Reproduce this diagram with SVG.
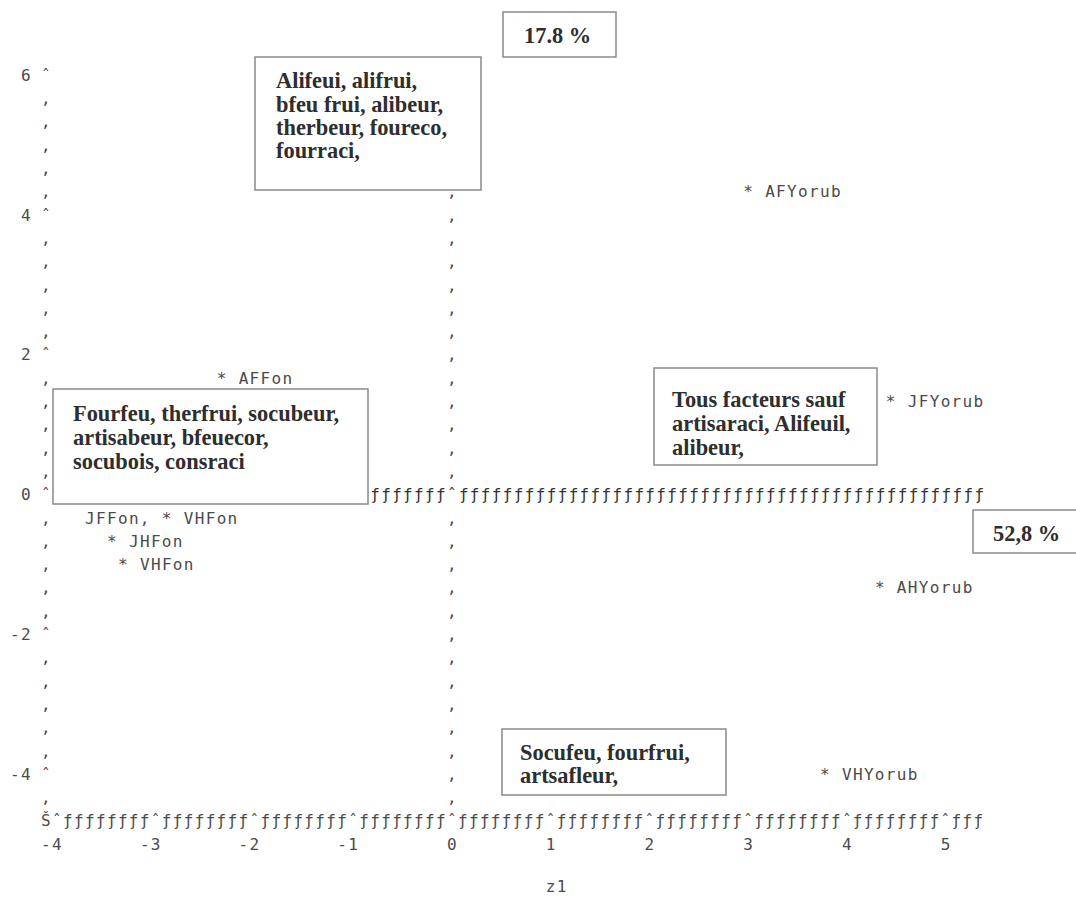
<svg xmlns="http://www.w3.org/2000/svg" width="1076" height="899" viewBox="0 0 1076 899">
<style>
.m { font-family: "DejaVu Sans Mono", "Liberation Mono", monospace; font-size: 16px; letter-spacing: 1.337px; fill: #4a4a4a; }
.z { fill: #333333; }
.b { font-family: "Liberation Serif", "Times New Roman", serif; font-weight: bold; font-size: 22.4px; fill: #2e2e2e; }
.box { fill: #ffffff; stroke: #8a8a8a; stroke-width: 1.5; }
</style>
<rect width="1076" height="899" fill="#ffffff"/>
<g id="axes">
  <text class="m" x="41.1 41.1 41.1 41.1 41.1 41.1 41.1 41.1 41.1 41.1 41.1 41.1 41.1 41.1 41.1 41.1 41.1 41.1 41.1 41.1 41.1 41.1 41.1 41.1 41.1 41.1 41.1 41.1 41.1 41.1 41.1 41.1" y="80.8 104.1 127.4 150.7 174 197.3 220.6 243.9 267.2 290.5 313.8 337.1 360.4 383.7 407 430.3 453.6 476.9 500.2 523.5 546.8 570.1 593.4 616.7 640 663.3 686.6 709.9 733.2 756.5 779.8 803.1">ˆ‚‚‚‚‚ˆ‚‚‚‚‚ˆ‚‚‚‚‚ˆ‚‚‚‚‚ˆ‚‚‚‚‚ˆ‚</text>
  <text class="m" x="21" y="80.8">6</text>
  <text class="m" x="21" y="220.6">4</text>
  <text class="m" x="21" y="360.4">2</text>
  <text class="m" x="21" y="500.2">0</text>
  <text class="m" x="10" y="640">-2</text>
  <text class="m" x="10" y="779.8">-4</text>
  <text class="m" x="41.1" y="826.4">Šˆƒƒƒƒƒƒƒƒˆƒƒƒƒƒƒƒƒˆƒƒƒƒƒƒƒƒˆƒƒƒƒƒƒƒƒˆƒƒƒƒƒƒƒƒˆƒƒƒƒƒƒƒƒˆƒƒƒƒƒƒƒƒˆƒƒƒƒƒƒƒƒˆƒƒƒƒƒƒƒƒˆƒƒƒ</text>
  <text class="m" x="41.1" y="849.7">-4</text>
  <text class="m" x="139.9" y="849.7">-3</text>
  <text class="m" x="238.6" y="849.7">-2</text>
  <text class="m" x="337.3" y="849.7">-1</text>
  <text class="m" x="447" y="849.7">0</text>
  <text class="m" x="545.8" y="849.7">1</text>
  <text class="m" x="644.5" y="849.7">2</text>
  <text class="m" x="743.2" y="849.7">3</text>
  <text class="m" x="841.9" y="849.7">4</text>
  <text class="m" x="940.7" y="849.7">5</text>
  <text class="m" x="545.8" y="892">z1</text>
</g>
<g id="connectors">
  <text class="m z" x="370.2" y="500.2">ƒƒƒƒƒƒƒˆ</text>
  <text class="m z" x="458.9" y="500.2">ƒƒƒƒƒƒƒƒ</text>
  <text class="m z" x="546.7" y="500.2">ƒƒƒƒƒƒƒƒ</text>
  <text class="m z" x="634.4" y="500.2">ƒƒƒƒƒƒƒƒ</text>
  <text class="m z" x="722.2" y="500.2">ƒƒƒƒƒƒƒƒ</text>
  <text class="m z" x="809.9" y="500.2">ƒƒƒƒƒƒƒƒ</text>
  <text class="m z" x="897.7" y="500.2">ƒƒƒƒƒƒƒƒ</text>
  <text class="m" x="447 447 447 447 447 447 447 447 447 447 447 447 447" y="197.3 220.6 243.9 267.2 290.5 313.8 337.1 360.4 383.7 407 430.3 453.6 476.9">‚‚‚‚‚‚‚‚‚‚‚‚‚</text>
  <text class="m" x="447 447 447 447 447 447 447 447 447 447 447 447 447" y="523.5 546.8 570.1 593.4 616.7 640 663.3 686.6 709.9 733.2 756.5 779.8 803.1">‚‚‚‚‚‚‚‚‚‚‚‚‚</text>
</g>
<g id="pt-AFYorub"><text class="m" x="743.2" y="197.3">* AFYorub</text></g>
<g id="pt-AFFon"><text class="m" x="216.7" y="383.7">* AFFon</text></g>
<g id="pt-JFYorub"><text class="m" x="885.8" y="407">* JFYorub</text></g>
<g id="pt-JFFon-VHFon"><text class="m" x="85" y="523.5">JFFon, * VHFon</text></g>
<g id="pt-JHFon"><text class="m" x="107" y="546.8">* JHFon</text></g>
<g id="pt-VHFon"><text class="m" x="118" y="570.1">* VHFon</text></g>
<g id="pt-AHYorub"><text class="m" x="874.9" y="593.4">* AHYorub</text></g>
<g id="pt-VHYorub"><text class="m" x="820" y="779.8">* VHYorub</text></g>
<g id="box-axis2">
  <rect class="box" x="503" y="12" width="113" height="45"/>
  <text class="b" x="524" y="43">17.8 %</text>
</g>
<g id="box-top">
  <rect class="box" x="255" y="57" width="226" height="133"/>
  <text class="b" x="276" y="88">Alifeui, alifrui,</text>
  <text class="b" x="276" y="112">bfeu frui, alibeur,</text>
  <text class="b" x="276" y="135">therbeur, foureco,</text>
  <text class="b" x="276" y="158">fourraci,</text>
</g>
<g id="box-left">
  <rect class="box" x="53" y="389" width="315" height="115"/>
  <text class="b" x="73" y="421">Fourfeu, therfrui, socubeur,</text>
  <text class="b" x="73" y="445">artisabeur, bfeuecor,</text>
  <text class="b" x="73" y="469">socubois, consraci</text>
</g>
<g id="box-right">
  <rect class="box" x="654" y="368" width="223" height="97"/>
  <text class="b" x="672" y="407">Tous facteurs sauf</text>
  <text class="b" x="672" y="431">artisaraci, Alifeuil,</text>
  <text class="b" x="672" y="455">alibeur,</text>
</g>
<g id="box-axis1">
  <rect class="box" x="973" y="510" width="110" height="43"/>
  <text class="b" x="993" y="541">52,8 %</text>
</g>
<g id="box-bottom">
  <rect class="box" x="502" y="729" width="224" height="66"/>
  <text class="b" x="520" y="760">Socufeu, fourfrui,</text>
  <text class="b" x="520" y="783">artsafleur,</text>
</g>
</svg>
